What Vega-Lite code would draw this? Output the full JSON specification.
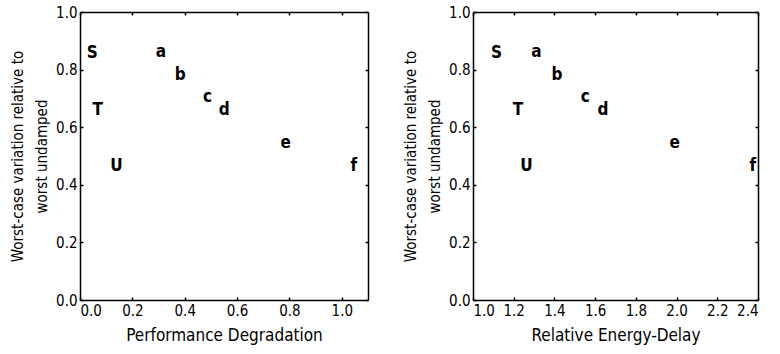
{
  "$schema": "https://vega.github.io/schema/vega-lite/v6.json",
  "background": "white",
  "padding": {"left": 10, "top": 5, "right": 5, "bottom": 5},
  "data": {"values": [
    {"label": "S", "perf": 0.047, "ed": 1.115, "var": 0.858},
    {"label": "a", "perf": 0.309, "ed": 1.311, "var": 0.86},
    {"label": "b", "perf": 0.383, "ed": 1.413, "var": 0.782},
    {"label": "c", "perf": 0.487, "ed": 1.552, "var": 0.706},
    {"label": "d", "perf": 0.551, "ed": 1.639, "var": 0.66},
    {"label": "T", "perf": 0.068, "ed": 1.221, "var": 0.658},
    {"label": "U", "perf": 0.139, "ed": 1.262, "var": 0.464},
    {"label": "e", "perf": 0.786, "ed": 1.991, "var": 0.544},
    {"label": "f", "perf": 1.046, "ed": 2.375, "var": 0.466}
  ]},
  "config": {
    "font": "DejaVu Sans Condensed",
    "view": {"stroke": null},
    "axis": {
      "domainColor": "black", "domainWidth": 1.5,
      "tickColor": "black", "tickSize": -3, "tickWidth": 1.5,
      "labelColor": "black", "labelFontSize": 15, "labelPadding": 6,
      "titleColor": "black", "titleFontWeight": "normal",
      "grid": false
    }
  },
  "spacing": 34,
  "hconcat": [
    {
      "width": 288, "height": 288,
      "layer": [
        {
          "mark": {"type": "text", "fontWeight": "bold", "fontSize": 17, "baseline": "middle", "align": "center", "color": "black"},
          "encoding": {
            "x": {"field": "perf", "type": "quantitative", "scale": {"domain": [0, 1.1], "nice": false, "zero": false},
                  "axis": {"title": "Performance Degradation", "titleFontSize": 17, "titlePadding": 9, "values": [0, 0.2, 0.4, 0.6, 0.8, 1.0], "format": ".1f"}},
            "y": {"field": "var", "type": "quantitative", "scale": {"domain": [0, 1], "nice": false},
                  "axis": {"title": ["Worst-case variation relative to", "worst undamped"], "titleFontSize": 15, "titleLineHeight": 24, "titlePadding": 6, "values": [0, 0.2, 0.4, 0.6, 0.8, 1.0], "format": ".1f"}},
            "text": {"field": "label"}
          }
        },
        {
          "mark": {"type": "point", "opacity": 0},
          "encoding": {
            "x": {"field": "perf", "type": "quantitative", "scale": {"domain": [0, 1.1], "nice": false, "zero": false},
                  "axis": {"orient": "top", "title": null, "labels": false, "values": [0, 0.2, 0.4, 0.6, 0.8, 1.0]}},
            "y": {"field": "var", "type": "quantitative", "scale": {"domain": [0, 1], "nice": false},
                  "axis": {"orient": "right", "title": null, "labels": false, "values": [0, 0.2, 0.4, 0.6, 0.8, 1.0]}}
          }
        }
      ],
      "resolve": {"scale": {"x": "independent", "y": "independent"}}
    },
    {
      "width": 285, "height": 288,
      "layer": [
        {
          "mark": {"type": "text", "fontWeight": "bold", "fontSize": 17, "baseline": "middle", "align": "center", "color": "black"},
          "encoding": {
            "x": {"field": "ed", "type": "quantitative", "scale": {"domain": [1.0, 2.4], "nice": false, "zero": false},
                  "axis": {"title": "Relative Energy-Delay", "titleFontSize": 17, "titlePadding": 9, "values": [1.0, 1.2, 1.4, 1.6, 1.8, 2.0, 2.2, 2.4], "format": ".1f"}},
            "y": {"field": "var", "type": "quantitative", "scale": {"domain": [0, 1], "nice": false},
                  "axis": {"title": ["Worst-case variation relative to", "worst undamped"], "titleFontSize": 15, "titleLineHeight": 24, "titlePadding": 6, "values": [0, 0.2, 0.4, 0.6, 0.8, 1.0], "format": ".1f"}},
            "text": {"field": "label"}
          }
        },
        {
          "mark": {"type": "point", "opacity": 0},
          "encoding": {
            "x": {"field": "ed", "type": "quantitative", "scale": {"domain": [1.0, 2.4], "nice": false, "zero": false},
                  "axis": {"orient": "top", "title": null, "labels": false, "values": [1.0, 1.2, 1.4, 1.6, 1.8, 2.0, 2.2, 2.4]}},
            "y": {"field": "var", "type": "quantitative", "scale": {"domain": [0, 1], "nice": false},
                  "axis": {"orient": "right", "title": null, "labels": false, "values": [0, 0.2, 0.4, 0.6, 0.8, 1.0]}}
          }
        }
      ],
      "resolve": {"scale": {"x": "independent", "y": "independent"}}
    }
  ]
}
